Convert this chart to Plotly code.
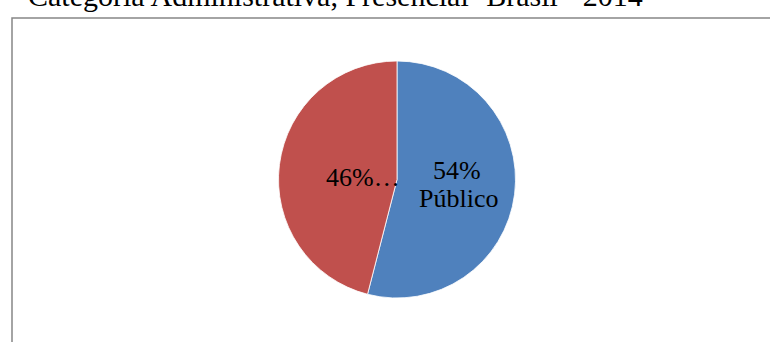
import plotly.graph_objects as go

# Share of enrolments by administrative category
categories = ["Público", "Privado"]
shares = [54, 46]
colors = ["#4F81BD", "#C0504D"]
title_text = "Categoria Administrativa, Presencial- Brasil - 2014"

W, H = 770, 342
ML, MT = 12, 18
PW, PH = W - ML, H - MT
SERIF = "Liberation Serif, Times New Roman, serif"


def px_x(x):
    return (x - ML) / PW


def px_y(y):
    return (H - y) / PH


# pie placement (pixels) converted to paper domain
cx, cy, r = 397, 179.5, 118.5
dom_x = [px_x(cx - r), px_x(cx + r)]
dom_y = [px_y(cy + r), px_y(cy - r)]

fig = go.Figure(
    go.Pie(
        labels=categories,
        values=shares,
        sort=False,
        direction="clockwise",
        rotation=0,
        marker=dict(colors=colors, line=dict(color="#FFFFFF", width=0.8)),
        textinfo="none",
        domain=dict(x=dom_x, y=dom_y),
        showlegend=False,
        hoverinfo="skip",
    )
)

# data labels, built from the same values as the slices
total = sum(shares)
pct = [round(100 * v / total) for v in shares]
label_lines = [
    (f"{pct[0]}%", 457, 170.5),
    (categories[0], 458, 198.5),
    (f"{pct[1]}%…", 362.5, 177.5),
]
for txt, x, y in label_lines:
    fig.add_annotation(
        text=txt, xref="paper", yref="paper",
        x=px_x(x), y=px_y(y), xanchor="center", yanchor="middle",
        showarrow=False,
        font=dict(family=SERIF, size=26, color="#000000"),
    )

fig.add_annotation(
    text=title_text,
    xref="paper", yref="paper",
    x=px_x(26), y=px_y(-4),
    xanchor="left", yanchor="middle",
    showarrow=False,
    font=dict(family=SERIF, size=30, color="#000000"),
)

# chart area frame
fig.add_shape(
    type="rect", xref="paper", yref="paper",
    x0=0, x1=1.05, y0=-0.05, y1=1,
    line=dict(color="#868686", width=1.5),
    fillcolor="rgba(0,0,0,0)",
)

fig.update_layout(
    width=W, height=H,
    margin=dict(l=ML, r=0, t=MT, b=0),
    paper_bgcolor="#FFFFFF",
    plot_bgcolor="#FFFFFF",
)

fig.write_html("out.html")
